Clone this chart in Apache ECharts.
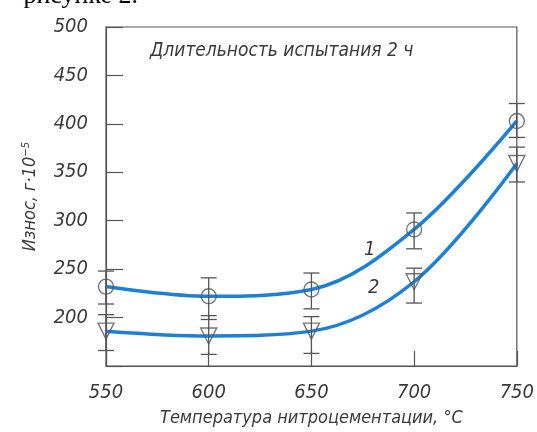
<!DOCTYPE html>
<html>
<head>
<meta charset="utf-8">
<script src="https://cdn.jsdelivr.net/npm/echarts@6/dist/echarts.min.js"></script>
<style>
    html, body { margin: 0; padding: 0; background: #fff; }
    #chart { width: 537px; height: 432px; }
</style>
</head>
<body>
<div id="chart"></div>
<script>
// температура, °C
const temps = [550, 600, 650, 700, 750]
// кривая 1 (кружки)
const wear1 = [232, 222, 229, 291, 403]
const wear1Low = [214, 198, 209, 271, 386]
const wear1High = [248, 241, 246, 308, 421]
// кривая 2 (треугольники)
const wear2 = [186, 181, 186, 237, 359]
const wear2Low = [166, 162, 163, 215, 340]
const wear2High = [203, 202, 201, 251, 376]
const yTicks = [150, 500, 50]

const axisColor = '#555'
const textColor = '#3a3a3a'
const lineColor = '#1c7fd8'
const font = "'Liberation Sans Narrow', 'DejaVu Sans Condensed', sans-serif"

function pairs(ys) {
    return temps.map((t, i) => [t, ys[i]])
}

function errData(low, high) {
    return temps.map((t, i) => [t, low[i], high[i]])
}

function renderErr(params, api) {
    let top = api.coord([api.value(0), api.value(2)])
    let bot = api.coord([api.value(0), api.value(1)])
    let w = 8
    let style = { stroke: axisColor, lineWidth: 1.3 }
    return {
        type: 'group',
        children: [
            { type: 'line', shape: { x1: top[0], y1: top[1], x2: bot[0], y2: bot[1] }, style: style },
            { type: 'line', shape: { x1: top[0] - w, y1: top[1], x2: top[0] + w, y2: top[1] }, style: style },
            { type: 'line', shape: { x1: bot[0] - w, y1: bot[1], x2: bot[0] + w, y2: bot[1] }, style: style }
        ]
    }
}

const chart = echarts.init(document.getElementById('chart'))

let option = {
    animation: false,
    grid: {
        left: 106,
        right: 12,
        top: 27,
        bottom: 62,
        show: true,
        borderColor: axisColor,
        borderWidth: 1.2
    },
    graphic: [
        {
            type: 'text', right: 399, top: -17,
            style: { text: 'рисунке 2.', font: "26px 'Liberation Serif', serif", fill: '#000' }
        },
        {
            type: 'text', left: 150, top: 42,
            style: { text: 'Длительность испытания 2 ч', font: 'italic 19px ' + font, fill: textColor }
        },
        {
            type: 'text', left: 364, top: 240,
            style: { text: '1', font: 'italic 20px ' + font, fill: textColor }
        },
        {
            type: 'text', left: 368, top: 278,
            style: { text: '2', font: 'italic 20px ' + font, fill: textColor }
        }
    ],
    xAxis: {
        type: 'value',
        min: temps[0],
        max: temps[temps.length - 1],
        interval: 50,
        name: 'Температура нитроцементации, °С',
        nameLocation: 'middle',
        nameGap: 43,
        nameTextStyle: { color: textColor, fontSize: 18, fontStyle: 'italic', fontFamily: font },
        axisLine: { lineStyle: { color: axisColor, width: 1.2 } },
        axisTick: { inside: true, length: 15, lineStyle: { color: axisColor, width: 1.2 } },
        splitLine: { show: false },
        axisLabel: { color: textColor, fontSize: 20, fontStyle: 'italic', fontFamily: font, margin: 17 }
    },
    yAxis: {
        type: 'value',
        min: yTicks[0],
        max: yTicks[1],
        interval: yTicks[2],
        name: 'Износ, г·10⁻⁵',
        nameLocation: 'middle',
        nameGap: 67,
        nameTextStyle: { color: textColor, fontSize: 18, fontStyle: 'italic', fontFamily: font },
        axisLine: { lineStyle: { color: axisColor, width: 1.2 } },
        axisTick: { inside: true, length: 17, lineStyle: { color: axisColor, width: 1.2 } },
        splitLine: { show: false },
        axisLabel: {
            color: textColor, fontSize: 20, fontStyle: 'italic', fontFamily: font, margin: 18,
            padding: [0, 0, 8, 0],
            formatter: v => v === yTicks[0] ? '' : String(v)
        }
    },
    series: [
        {
            type: 'line', smooth: 0.35, showSymbol: false, data: pairs(wear1),
            lineStyle: { color: lineColor, width: 3.5 }, z: 3
        },
        {
            type: 'line', smooth: 0.35, showSymbol: false, data: pairs(wear2),
            lineStyle: { color: lineColor, width: 3.5 }, z: 3
        },
        { type: 'custom', renderItem: renderErr, data: errData(wear1Low, wear1High), z: 4 },
        { type: 'custom', renderItem: renderErr, data: errData(wear2Low, wear2High), z: 4 },
        {
            type: 'scatter', symbol: 'circle', symbolSize: 15, data: pairs(wear1), z: 5,
            itemStyle: { color: 'rgba(255,255,255,0)', borderColor: axisColor, borderWidth: 1.4 }
        },
        {
            type: 'scatter', symbol: 'triangle', symbolSize: 16, symbolRotate: 180, data: pairs(wear2), z: 5,
            itemStyle: { color: 'rgba(255,255,255,0)', borderColor: axisColor, borderWidth: 1.4 }
        }
    ]
}

chart.setOption(option)
</script>
</body>
</html>
